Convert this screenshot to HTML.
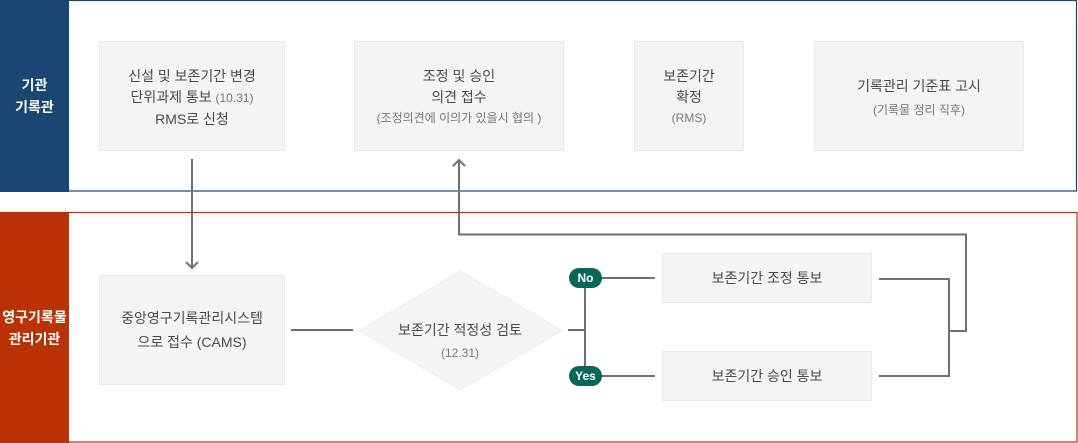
<!DOCTYPE html>
<html><head><meta charset="utf-8">
<style>
html,body{margin:0;padding:0;background:#fff;}
body{width:1078px;height:443px;position:relative;overflow:hidden;font-family:"Liberation Sans","Noto Sans CJK KR",sans-serif;}
.side{position:absolute;left:0;width:69px;color:#fff;font-weight:bold;font-size:14px;line-height:22px;display:flex;align-items:center;justify-content:center;text-align:center;}
.box{position:absolute;background:#f4f4f4;border:1px solid #e9e9e9;box-sizing:border-box;display:flex;align-items:center;justify-content:center;flex-direction:column;text-align:center;color:#4a4a4a;font-size:14px;line-height:21px;}
.t{position:absolute;text-align:center;color:#4a4a4a;font-size:14px;}
.s{font-size:12px;color:#777;}
.pill{position:absolute;width:33px;height:20px;border-radius:10px;background:#0b665a;color:#fff;font-weight:bold;font-size:12px;line-height:20px;text-align:center;}
svg{position:absolute;left:0;top:0;}
</style></head><body>
<div class="side" style="top:0;height:192px;background:#1b4673;">기관<br>기록관</div>
<div class="side" style="top:212px;height:231px;background:#b93206;">영구기록물<br>관리기관</div>

<div class="box" style="left:99px;top:41px;width:186px;height:110px;padding-top:3px;"><div>신설 및 보존기간 변경</div><div>단위과제 통보 <span class="s">(10.31)</span></div><div>RMS로 신청</div></div>
<div class="box" style="left:354px;top:41px;width:210px;height:110px;padding-top:2px;"><div>조정 및 승인</div><div>의견 접수</div><div class="s">(조정의견에 이의가 있을시 협의 )</div></div>
<div class="box" style="left:634px;top:41px;width:110px;height:110px;padding-top:2px;"><div>보존기간</div><div>확정</div><div class="s">(RMS)</div></div>
<div class="box" style="left:814px;top:41px;width:210px;height:110px;line-height:24px;padding-top:4px;"><div>기록관리 기준표 고시</div><div class="s">(기록물 정리 직후)</div></div>

<div class="box" style="left:99px;top:275px;width:186px;height:110px;line-height:24px;"><div>중앙영구기록관리시스템</div><div>으로 접수 (CAMS)</div></div>
<div class="box" style="left:662px;top:253px;width:210px;height:50px;"><div>보존기간 조정 통보</div></div>
<div class="box" style="left:662px;top:351px;width:210px;height:50px;"><div>보존기간 승인 통보</div></div>

<svg width="1078" height="443" viewBox="0 0 1078 443">
<rect x="0.5" y="0.5" width="1076" height="190.5" fill="none" stroke="#1b4673" stroke-width="1.2"/>
<rect x="0.5" y="212.5" width="1076.5" height="229.5" fill="none" stroke="#b93206" stroke-width="1.2"/>
<polygon points="359,330.5 460.5,271 562,330.5 460.5,390" fill="#f4f4f4" stroke="#ececec" stroke-width="1"/>
<g fill="none" stroke="#707070" stroke-width="2">
<line x1="192" y1="159" x2="192" y2="268"/>
<polyline points="186,262 192,268 198,262"/>
<line x1="291" y1="330" x2="353" y2="330"/>
<line x1="568" y1="330" x2="585" y2="330"/>
<line x1="585" y1="278" x2="585" y2="376"/>
<line x1="600" y1="278" x2="655" y2="278"/>
<line x1="600" y1="376" x2="655" y2="376"/>
<polyline points="879,279 949,279 949,376 879,376"/>
<polyline points="949,331 966,331 966,234.5 459,234.5 459,160"/>
<polyline points="453,166 459,160 465,166"/>
</g>
</svg>

<div class="t" style="left:360px;top:319px;width:200px;line-height:22px;">보존기간 적정성 검토</div>
<div class="t s" style="left:360px;top:343px;width:200px;line-height:20px;">(12.31)</div>
<div class="pill" style="left:569px;top:268px;">No</div>
<div class="pill" style="left:569px;top:366px;">Yes</div>
</body></html>
